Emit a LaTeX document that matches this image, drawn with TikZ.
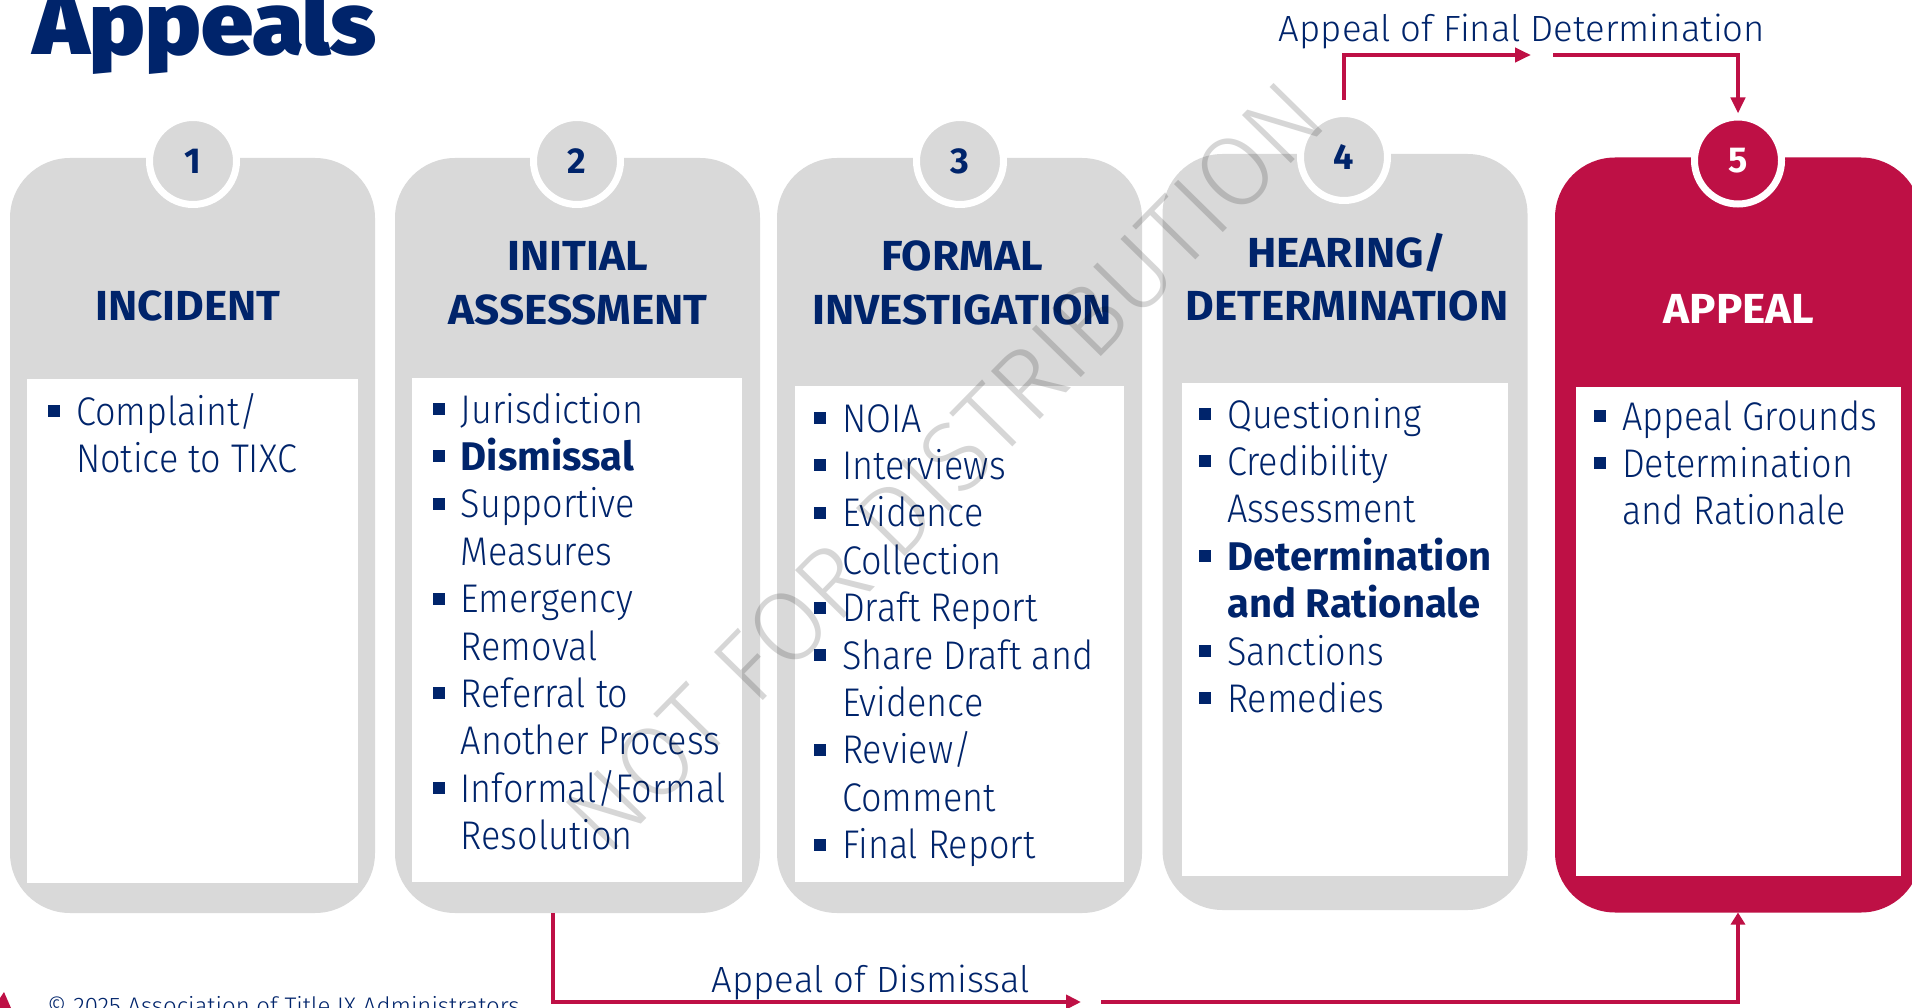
\documentclass[tikz,border=0pt]{standalone}
\usepackage{fontspec}
\setmainfont{Fira Sans}[UprightFont={* Light}, BoldFont={* Bold}]
\newfontfamily\itemfont{Fira Sans}[UprightFont={* Light}, BoldFont={* Bold},
  UprightFeatures={FakeStretch=0.9}]
\newfontfamily\headfont{Fira Sans}[UprightFont={* Bold}, FakeStretch=1.05]
\newfontfamily\numfont{Fira Sans}[UprightFont={* Bold}]
\newfontfamily\titlefont{Fira Sans}[UprightFont={* Black}, FakeStretch=1.06]
\usetikzlibrary{arrows.meta}

\definecolor{tixnavy}{RGB}{0,36,107}
\definecolor{tixred}{RGB}{190,16,69}
\definecolor{tixgray}{RGB}{217,217,217}

\tikzset{
  stagebox/.style={fill=tixgray, rounded corners=60pt, inner sep=0pt, outer sep=0pt,
    minimum width=365pt, minimum height=755pt},
  innerbox/.style={fill=white, inner sep=0pt, outer sep=0pt},
  numcircle/.style={circle, fill=tixgray, draw=white, line width=7pt, minimum size=87pt,
    inner sep=0pt, text=tixnavy, font=\numfont\fontsize{36}{36}\selectfont},
  heading/.style={anchor=base, inner sep=0pt, text=tixnavy, font=\headfont\fontsize{42}{42}\selectfont},
  itemtext/.style={anchor=base west, inner sep=0pt, text=tixnavy, font=\itemfont\fontsize{40}{40}\selectfont},
  labeltext/.style={anchor=base, inner sep=0pt, text=tixnavy, font=\fontsize{36.5}{36.5}\selectfont},
  appealline/.style={draw=tixred, line width=4.5pt},
}

% one bulleted column: #1 name prefix, #2 text left edge, #3 first baseline, #4 text/bullet pairs
\newcommand\stagelist[4]{%
  \foreach \txt/\bul [count=\i from 0] in {#4} {%
    \node[itemtext] (#1-\i) at (#2, #3+\i*47.4) {\txt};
    \ifnum\bul=1
      \fill[tixnavy] ([shift={(-28,-8)}]#1-\i.base west) rectangle +(12,-12);
    \fi
  }%
}

\begin{document}
\begin{tikzpicture}[x=1pt,y=-1pt]
  \clip (0,0) rectangle (1912,1008);
  \fill[white] (0,0) rectangle (1912,1008);

  % title
  \node[anchor=base west, inner sep=0pt, text=tixnavy, font=\titlefont\fontsize{88}{88}\selectfont]
    (title) at (33,55) {Appeals};

  % stage cards
  \node[stagebox] (b1) at (192.5,535.5) {};
  \node[stagebox] (b2) at (577.5,535.5) {};
  \node[stagebox] (b3) at (959.5,535.5) {};
  \node[stagebox, minimum height=756pt] (b4) at (1345,532) {};
  \node[stagebox, fill=tixred, minimum width=366pt] (b5) at (1738,535) {};

  % white content panels
  \node[innerbox, minimum width=331pt, minimum height=504pt] (w1) at (192.5,631) {};
  \node[innerbox, minimum width=330pt, minimum height=504pt] (w2) at (577,630) {};
  \node[innerbox, minimum width=329pt, minimum height=496pt] (w3) at (959.5,634) {};
  \node[innerbox, minimum width=326pt, minimum height=493pt] (w4) at (1345,629.5) {};
  \node[innerbox, minimum width=325pt, minimum height=489pt] (w5) at (1738.5,631.5) {};

  % step numbers
  \node[numcircle] (c1) at (193,161) {1};
  \node[numcircle] (c2) at (577,161) {2};
  \node[numcircle] (c3) at (960,161) {3};
  \node[numcircle] (c4) at (1344,157) {4};
  \node[numcircle, fill=tixred, text=white] (c5) at (1738,160.5) {5};

  % headings
  \node[heading] (h1) at (188,321) {INCIDENT};
  \node[heading] (h2a) at (578,271) {INITIAL};
  \node[heading] (h2b) at (578,325) {ASSESSMENT};
  \node[heading] (h3a) at (962,271) {FORMAL};
  \node[heading] (h3b) at (962,325) {INVESTIGATION};
  \node[heading] (h4a) at (1347,268) {HEARING/};
  \node[heading] (h4b) at (1347,321) {DETERMINATION};
  \node[heading, text=white] (h5) at (1739,324) {APPEAL};

  % bullet lists
  \stagelist{l1}{76}{425}{{Complaint/}/1, {Notice to TIXC}/0}
  \stagelist{l2}{460.6}{423}{Jurisdiction/1, {\bfseries Dismissal}/1, Supportive/1, Measures/0,
    Emergency/1, Removal/0, {Referral to}/1, {Another Process}/0, {Informal/Formal}/1, Resolution/0}
  \stagelist{l3}{842}{432}{NOIA/1, Interviews/1, Evidence/1, Collection/0, {Draft Report}/1,
    {Share Draft and}/1, Evidence/0, {Review/}/1, Comment/0, {Final Report}/1}
  \stagelist{l4}{1227}{428}{Questioning/1, Credibility/1, Assessment/0, {\bfseries Determination}/1,
    {\bfseries and Rationale}/0, Sanctions/1, Remedies/1}
  \stagelist{l5}{1622}{430}{{Appeal Grounds}/1, Determination/1, {and Rationale}/0}

  % appeal of the final determination: from stage 4 over to stage 5
  \coordinate (fd-start) at (1344,100);
  \coordinate (fd-break) at (1531,55);
  \coordinate (fd-resume) at (1553,55);
  \draw[appealline, -{Triangle[length=16pt,width=14pt]}] (fd-start) |- (fd-break);
  \draw[appealline, -{Triangle[length=16pt,width=14pt]}] (fd-resume) -| (c5.north);
  \node[labeltext] (fd-label) at (1522,42) {Appeal of Final Determination};

  % appeal of a dismissal: from stage 2 along the bottom to stage 5
  \coordinate (dm-break) at (1081,1002);
  \coordinate (dm-resume) at (1101,1002);
  \draw[appealline, -{Triangle[length=15pt,width=14pt]}] ([xshift=-24.5pt]b2.south) |- (dm-break);
  \draw[appealline, -{Triangle[length=12pt,width=14pt]}] (dm-resume) -| (b5.south);
  \node[labeltext] (dm-label) at (871,992) {Appeal of Dismissal};

  % footer
  \node[anchor=base west, inner sep=0pt, text=tixnavy, font=\fontsize{24}{24}\selectfont]
    (footer) at (47,1014) {© 2025 Association of Title IX Administrators};
  \fill[tixred] (0,1008) -- (0,998) -- (4,992) -- (11,1008) -- cycle;

  % watermark
  \node[rotate=45.5, inner sep=0pt, text=black, opacity=0.16, font=\fontsize{100}{100}\selectfont]
    (watermark) at (945,467) {NOT FOR DISTRIBUTION};
\end{tikzpicture}
\end{document}
